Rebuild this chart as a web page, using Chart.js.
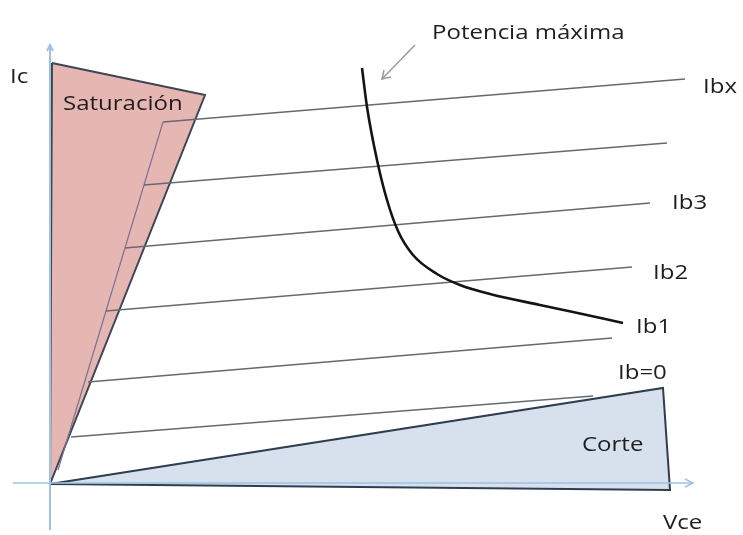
<!DOCTYPE html>
<html>
<head>
<meta charset="utf-8">
<script src="https://cdn.jsdelivr.net/npm/chart.js@4"></script>
<style>
  body { margin: 0; background: #fff; }
  #wrap { width: 743px; height: 535px; }
</style>
</head>
<body>
<div id="wrap"><canvas id="bjt-chart"></canvas></div>
<script>
// Vce / Ic diagram units (origin at the corner of the two regions)
const saturacion = [[0.2, 42.1], [15.5, 38.9], [0, 0], [0.2, 42.1]];
const corte = [[0, 0], [61.3, 9.6], [62.0, -0.6], [0, 0]];
const satInner = [[11.3, 36.2], [0.8, 1.4]];

// Ib curves: start / end of each (nearly flat) line, top to bottom
const ibLines = [
  [[11.3, 36.2], [63.5, 40.5]],
  [[9.4, 29.9], [61.7, 34.1]],
  [[7.5, 23.6], [60.0, 28.1]],
  [[5.6, 17.3], [58.2, 21.7]],
  [[3.8, 10.2], [56.2, 14.6]],
  [[2.1, 4.7], [54.3, 8.8]],
];

// maximum power hyperbola
const potenciaVce = [31.2, 31.7, 32.7, 33.7, 34.8, 36.3, 38.7, 41.0, 44.0, 49.0, 52.3, 57.3];
const potenciaIc = [41.6, 37.7, 32.4, 28.4, 25.3, 22.9, 21.0, 19.9, 19.0, 17.9, 17.2, 16.1];

const ejeX = [[-3.7, 0.1], [64.3, 0.1]];
const flechaX = [[63.5, 0.5], [64.3, 0.1], [63.5, -0.3]];
const ejeY = [[0, -4.6], [0, 43.9]];
const flechaY = [[-0.3, 43.3], [0, 43.9], [0.3, 43.3]];
const flechaPot = [[36.5, 43.9], [33.2, 40.5]];
const puntaPot = [[34.1, 40.7], [33.2, 40.5], [33.4, 41.4]];

const textos = ['Potencia máxima', 'Ic', 'Saturación', 'Ibx', 'Ib3', 'Ib2', 'Ib1', 'Ib=0', 'Corte', 'Vce'];
const textosPos = [[38.2, 45.1], [-4.0, 40.7], [1.3, 38.0], [65.3, 39.7], [62.2, 28.1], [60.3, 21.1], [58.6, 15.7], [56.8, 11.1], [53.2, 3.9], [61.3, -3.9]];

const pts = arr => arr.map(p => ({ x: p[0], y: p[1] }));

function line(data, color, width, order) {
  return { data: pts(data), showLine: true, borderColor: color, borderWidth: width,
    pointRadius: 0, fill: false, order: order, tension: 0 };
}

const datasets = [
  { data: pts(saturacion), showLine: true, borderColor: '#3d4654', borderWidth: 2,
    backgroundColor: '#e6b6b3', fill: 'shape', pointRadius: 0, order: 20 },
  { data: pts(corte), showLine: true, borderColor: '#2f3d50', borderWidth: 2,
    backgroundColor: '#d7e1ee', fill: 'shape', pointRadius: 0, order: 20 },
  line(ejeX, '#9ec2e4', 1.5, 15),
  line(flechaX, '#9ec2e4', 1.5, 15),
  line(ejeY, '#9ec2e4', 2, 15),
  line(flechaY, '#9ec2e4', 2, 15),
  line(satInner, '#7d7390', 1.2, 12),
  line(flechaPot, '#9a9a9a', 1.5, 12),
  line(puntaPot, '#9a9a9a', 1.5, 12),
  ...ibLines.map(l => line(l, '#646a72', 1.6, 10)),
  { data: potenciaVce.map((v, i) => ({ x: v, y: potenciaIc[i] })), showLine: true,
    borderColor: '#141414', borderWidth: 2.6, pointRadius: 0, fill: false,
    cubicInterpolationMode: 'monotone', order: 1 },
];

const textPlugin = {
  id: 'textos',
  afterDatasetsDraw(chart) {
    const { ctx, scales } = chart;
    ctx.save();
    ctx.fillStyle = '#1e1e1e';
    ctx.font = '20px "Open Sans"';
    ctx.textBaseline = 'middle';
    textos.forEach((t, i) => {
      const x = scales.x.getPixelForValue(textosPos[i][0]);
      const y = scales.y.getPixelForValue(textosPos[i][1]);
      ctx.save();
      ctx.translate(x, y);
      ctx.scale(1.2, 1);
      ctx.fillText(t, 0, 0);
      ctx.restore();
    });
    ctx.restore();
  },
};

new Chart(document.getElementById('bjt-chart'), {
  type: 'scatter',
  data: { datasets: datasets },
  options: {
    responsive: true,
    maintainAspectRatio: false,
    animation: false,
    layout: { padding: 0 },
    plugins: { legend: { display: false }, tooltip: { enabled: false } },
    scales: {
      x: { type: 'linear', min: -5, max: 69.3, display: false },
      y: { type: 'linear', min: -5.1, max: 48.4, display: false },
    },
  },
  plugins: [textPlugin],
});
</script>
</body>
</html>
